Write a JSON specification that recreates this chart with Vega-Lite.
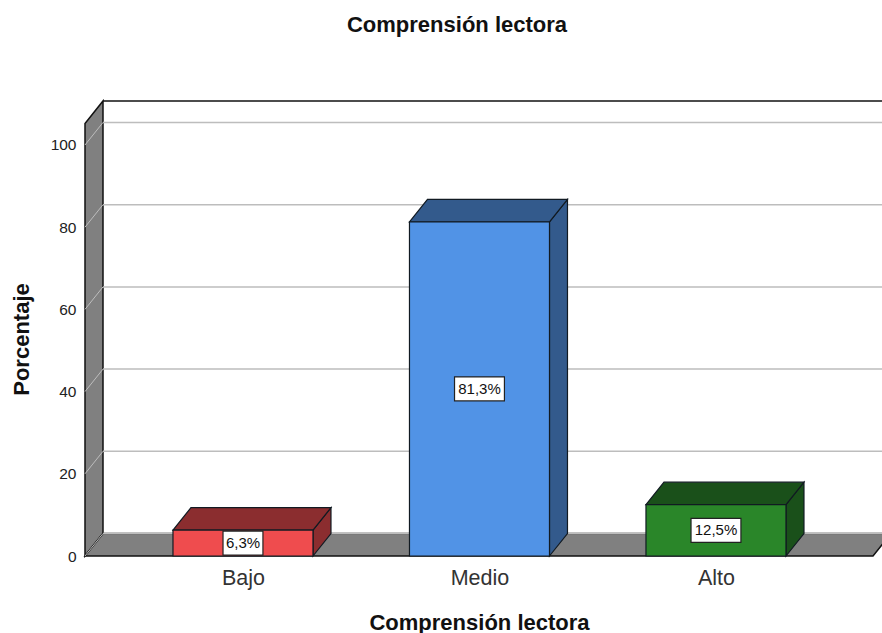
{"$schema":"https://vega.github.io/schema/vega-lite/v6.json","width":797,"height":455,"autosize":{"type":"none"},"padding":{"left":85,"top":101,"right":0,"bottom":77},"background":"white","title":{"text":"Comprensión lectora","font":"Liberation Sans","fontSize":22,"fontWeight":"bold","color":"#111111","anchor":"middle","dx":-26.5,"offset":61},"config":{"view":{"stroke":null},"font":"Liberation Sans"},"datasets":{"bars":[{"cat":"Bajo","pct":6.3},{"cat":"Medio","pct":81.3},{"cat":"Alto","pct":12.5}],"ticks":[{"tick":0},{"tick":20},{"tick":40},{"tick":60},{"tick":80},{"tick":100}],"stops":[{"t":0},{"t":1}]},"encoding":{"x":{"field":"px","type":"quantitative","stack":null,"scale":{"domain":[0.332,3.702],"nice":false,"zero":false},"axis":{"values":[1,2,3],"labelExpr":"['Bajo','Medio','Alto'][datum.value-1]","grid":false,"ticks":false,"domain":false,"labelFontSize":21.5,"labelColor":"#333333","labelPadding":11,"labelFont":"Liberation Sans","title":"Comprensión lectora","titleFontSize":22,"titleFontWeight":"bold","titleColor":"#111111","titleFont":"Liberation Sans","titleX":394,"titleY":73,"titleBaseline":"alphabetic"}},"y":{"field":"py","type":"quantitative","stack":null,"scale":{"domain":[0,110.7],"nice":false,"zero":false},"axis":{"values":[0,20,40,60,80,100],"grid":false,"ticks":false,"domain":false,"labelFontSize":15.5,"labelColor":"#222222","labelPadding":9,"labelFont":"Liberation Sans","title":"Porcentaje","titleFontSize":22,"titleFontWeight":"bold","titleColor":"#111111","titleFont":"Liberation Sans","titleX":-57,"titleY":238,"titleAngle":270,"titleAlign":"center","titleBaseline":"alphabetic"}}},"layer":[{"data":{"name":"stops"},"transform":[{"calculate":"0.332+datum.t*0.0761","as":"px"},{"calculate":"datum.t*5.47","as":"py"},{"calculate":"105.23+datum.t*5.47","as":"ptop"}],"mark":{"type":"area","orient":"vertical","fill":"#808080","stroke":"#111111","strokeWidth":1.5},"encoding":{"y2":{"field":"ptop"}}},{"data":{"name":"stops"},"transform":[{"calculate":"0.332+datum.t*0.0761","as":"px"},{"calculate":"3.664+datum.t*0.0761","as":"px2"},{"calculate":"datum.t*5.47","as":"py"}],"mark":{"type":"area","orient":"horizontal","fill":"#808080","stroke":"#111111","strokeWidth":1.5},"encoding":{"x2":{"field":"px2"}}},{"data":{"values":[{"edge":"top"}]},"transform":[{"calculate":"0.4081","as":"px"},{"calculate":"3.702","as":"px2"},{"calculate":"110.7","as":"py"}],"mark":{"type":"rule","color":"#111111","strokeWidth":1.5},"encoding":{"x2":{"field":"px2"}}},{"data":{"name":"ticks"},"transform":[{"calculate":"0.4081","as":"px"},{"calculate":"3.702","as":"px2"},{"calculate":"datum.tick+5.47","as":"py"}],"mark":{"type":"rule","color":"#bdbdbd","strokeWidth":1.5},"encoding":{"x2":{"field":"px2"}}},{"data":{"name":"ticks"},"transform":[{"calculate":"0.332","as":"px"},{"calculate":"0.4081","as":"px2"},{"calculate":"datum.tick","as":"py"},{"calculate":"datum.tick+5.47","as":"py2"}],"mark":{"type":"rule","color":"#bdbdbd","strokeWidth":1},"encoding":{"x2":{"field":"px2"},"y2":{"field":"py2"}}},{"data":{"name":"bars"},"transform":[{"calculate":"indexof(['Bajo','Medio','Alto'],datum.cat)+1","as":"p"},{"calculate":"[0,1]","as":"t"},{"flatten":["t"]},{"calculate":"datum.p+0.296+datum.t*0.0761","as":"px"},{"calculate":"datum.t*5.47","as":"py"},{"calculate":"datum.pct+datum.t*5.47","as":"py2"}],"mark":{"type":"area","orient":"vertical","stroke":"#111a22","strokeWidth":1.2},"encoding":{"y2":{"field":"py2"},"color":{"field":"cat","type":"nominal","legend":null,"scale":{"domain":["Bajo","Medio","Alto"],"range":["#8b2d2f","#335a8c","#1a501a"]}}}},{"data":{"name":"bars"},"transform":[{"calculate":"indexof(['Bajo','Medio','Alto'],datum.cat)+1","as":"p"},{"calculate":"[0,1]","as":"t"},{"flatten":["t"]},{"calculate":"datum.p-0.296+datum.t*0.0761","as":"px"},{"calculate":"datum.p+0.296+datum.t*0.0761","as":"px2"},{"calculate":"datum.pct+datum.t*5.47","as":"py"}],"mark":{"type":"area","orient":"horizontal","stroke":"#111a22","strokeWidth":1.2},"encoding":{"x2":{"field":"px2"},"color":{"field":"cat","type":"nominal","legend":null,"scale":{"domain":["Bajo","Medio","Alto"],"range":["#8b2d2f","#335a8c","#1a501a"]}}}},{"data":{"name":"bars"},"transform":[{"calculate":"indexof(['Bajo','Medio','Alto'],datum.cat)+1","as":"p"},{"calculate":"datum.p-0.296","as":"px"},{"calculate":"datum.p+0.296","as":"px2"},{"calculate":"0","as":"py"},{"calculate":"datum.pct","as":"py2"}],"mark":{"type":"rect","stroke":"#111a22","strokeWidth":1.2},"encoding":{"x2":{"field":"px2"},"y2":{"field":"py2"},"color":{"field":"cat","type":"nominal","legend":null,"scale":{"domain":["Bajo","Medio","Alto"],"range":["#ef4c4e","#5193e6","#2a8629"]}}}},{"data":{"name":"bars"},"transform":[{"calculate":"indexof(['Bajo','Medio','Alto'],datum.cat)+1","as":"p"},{"calculate":"replace(format(datum.pct,'.1f'),'.',',')+'%'","as":"label"},{"calculate":"datum.p-length(datum.label)*0.0211","as":"px"},{"calculate":"datum.p+length(datum.label)*0.0211","as":"px2"},{"calculate":"datum.pct/2-2.92","as":"py"},{"calculate":"datum.pct/2+2.92","as":"py2"}],"mark":{"type":"rect","fill":"white","stroke":"#222222","strokeWidth":1.2},"encoding":{"x2":{"field":"px2"},"y2":{"field":"py2"}}},{"data":{"name":"bars"},"transform":[{"calculate":"indexof(['Bajo','Medio','Alto'],datum.cat)+1","as":"px"},{"calculate":"replace(format(datum.pct,'.1f'),'.',',')+'%'","as":"label"},{"calculate":"datum.pct/2","as":"py"}],"mark":{"type":"text","font":"Liberation Sans","fontSize":15,"color":"#111111","align":"center","baseline":"middle"},"encoding":{"text":{"field":"label","type":"nominal"}}}],"resolve":{"scale":{"color":"independent"}}}
